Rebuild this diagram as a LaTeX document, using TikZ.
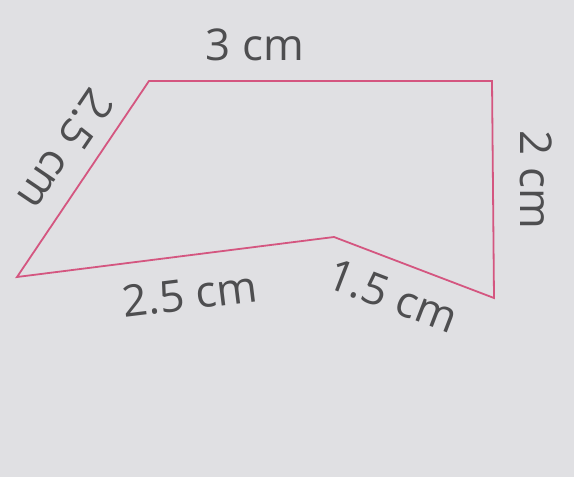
\documentclass[tikz,border=0pt]{standalone}
\usepackage{fontspec}
\setmainfont{Open Sans}
\definecolor{paper}{RGB}{224,224,227}
\definecolor{edge}{RGB}{212,86,128}
\definecolor{ink}{RGB}{78,78,80}
\begin{document}
\begin{tikzpicture}[x=1bp,y=-1bp,
  side/.style={draw=edge,line width=1.8bp,line join=miter},
  lbl/.style={text=ink,font=\fontsize{44}{48}\selectfont,inner sep=0pt}]
\fill[paper] (0,0) rectangle (574,477);
\useasboundingbox (0,0) rectangle (574,477);
\coordinate (A) at (149,81);
\coordinate (B) at (492,81);
\coordinate (C) at (494,298);
\coordinate (D) at (334,237);
\coordinate (E) at (17,277);
\draw[side] (A) -- (B) -- (C) -- (D) -- (E) -- cycle;
\node[lbl] (top) at (255,45) {3 cm};
\node[lbl,rotate=236] (left) at (66,150) {2.5 cm};
\node[lbl,rotate=-90] (right) at (536,180) {2 cm};
\node[lbl,rotate=7] (bottom) at (190,294) {2.5 cm};
\node[lbl,rotate=-21] (notch) at (393,296) {1.5 cm};
\end{tikzpicture}
\end{document}
